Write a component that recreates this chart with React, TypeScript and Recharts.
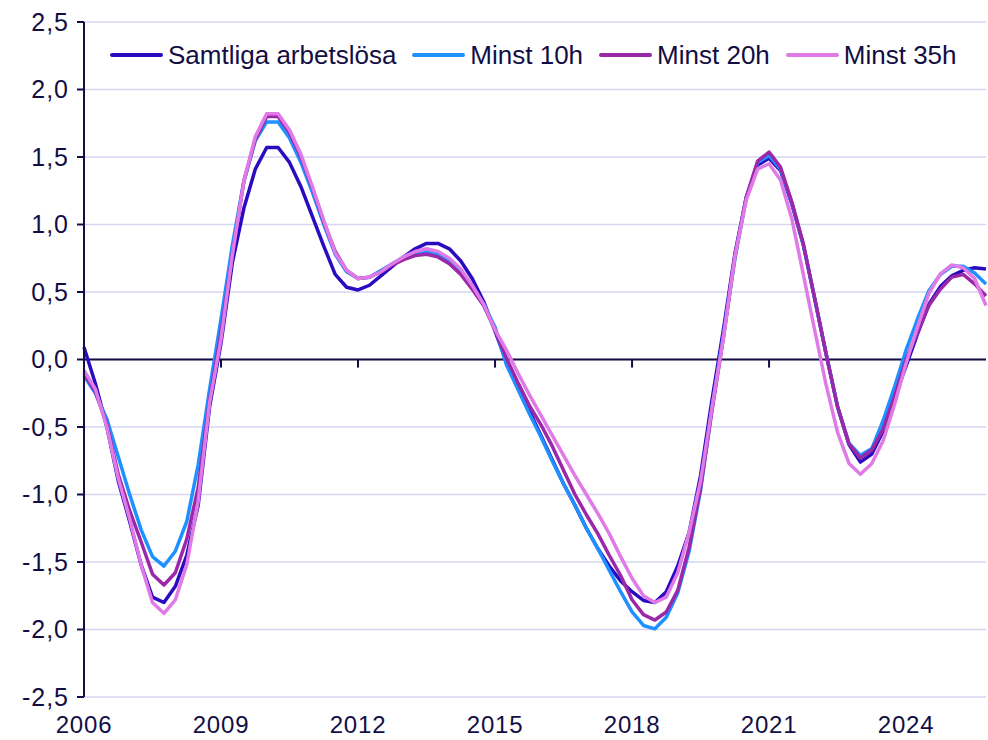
import React from 'react';
import { LineChart, Line, XAxis, YAxis, CartesianGrid, ReferenceLine } from 'recharts';

// Quarterly categories 2006 K1 .. 2025 K4
const years = [2006, 2007, 2008, 2009, 2010, 2011, 2012, 2013, 2014, 2015, 2016, 2017, 2018, 2019, 2020, 2021, 2022, 2023, 2024, 2025];
const quarterNames = ['K1', 'K2', 'K3', 'K4'];
const categories: string[] = years.flatMap((y) => quarterNames.map((q) => `${y} ${q}`));

const xTickLabels = ['2006', '2009', '2012', '2015', '2018', '2021', '2024'];
const yTicks = [-2.5, -2, -1.5, -1, -0.5, 0, 0.5, 1, 1.5, 2, 2.5];

const seriesNames = ['Samtliga arbetslösa', 'Minst 10h', 'Minst 20h', 'Minst 35h'];

const samtliga = [
  0.09, -0.18, -0.5, -0.9, -1.2, -1.52, -1.76, -1.8, -1.68, -1.45,
  -1.08, -0.35, 0.12, 0.72, 1.12, 1.41, 1.57, 1.57, 1.46, 1.28,
  1.06, 0.84, 0.63, 0.535, 0.515, 0.55, 0.62, 0.69, 0.76, 0.82,
  0.86, 0.86, 0.82, 0.73, 0.6, 0.43, 0.21, -0.02, -0.2, -0.38,
  -0.56, -0.74, -0.92, -1.08, -1.25, -1.4, -1.53, -1.64, -1.72, -1.785,
  -1.8, -1.72, -1.53, -1.28, -0.86, -0.3, 0.22, 0.78, 1.2, 1.44,
  1.49, 1.4, 1.15, 0.85, 0.45, 0.04, -0.35, -0.63, -0.76, -0.7,
  -0.53, -0.28, -0.05, 0.19, 0.41, 0.54, 0.62, 0.66, 0.68, 0.67,
];

const minst10 = [
  -0.12, -0.25, -0.44, -0.72, -1.0, -1.26, -1.46, -1.53, -1.42, -1.2,
  -0.78, -0.22, 0.3, 0.85, 1.32, 1.62, 1.76, 1.76, 1.64, 1.46,
  1.24, 1.0, 0.78, 0.65, 0.6, 0.61, 0.66, 0.71, 0.76, 0.79,
  0.8, 0.78, 0.73, 0.65, 0.54, 0.41, 0.24, -0.04, -0.22, -0.4,
  -0.57, -0.75, -0.92, -1.08, -1.25, -1.4, -1.56, -1.72, -1.87, -1.97,
  -1.995, -1.91, -1.73, -1.42, -0.97, -0.36, 0.18, 0.74, 1.2, 1.46,
  1.51, 1.41, 1.16, 0.85, 0.45, 0.04, -0.35, -0.62, -0.71, -0.66,
  -0.45, -0.2, 0.07, 0.3, 0.51, 0.63, 0.69, 0.69, 0.64, 0.56,
];

const minst20 = [
  -0.1, -0.24, -0.48, -0.85, -1.12, -1.35, -1.59, -1.67, -1.58, -1.33,
  -0.95, -0.3, 0.2, 0.78, 1.32, 1.63, 1.8, 1.8, 1.68, 1.5,
  1.27, 1.02, 0.8, 0.66, 0.6, 0.61, 0.65, 0.7, 0.74, 0.77,
  0.78, 0.76, 0.71, 0.63, 0.52, 0.4, 0.22, 0.01, -0.17, -0.34,
  -0.48, -0.64, -0.82, -1.0, -1.15, -1.29, -1.45, -1.6, -1.78, -1.89,
  -1.93, -1.87, -1.71, -1.39, -0.95, -0.38, 0.16, 0.76, 1.2, 1.47,
  1.536, 1.425, 1.165, 0.857, 0.45, 0.04, -0.35, -0.625, -0.73, -0.67,
  -0.515, -0.27, 0.0, 0.2, 0.4, 0.52, 0.61, 0.63, 0.56, 0.47,
];

const minst35 = [
  -0.08, -0.22, -0.5, -0.88, -1.18, -1.52, -1.8, -1.88, -1.78, -1.52,
  -1.05, -0.32, 0.15, 0.78, 1.32, 1.65, 1.82, 1.82, 1.7, 1.52,
  1.28, 1.03, 0.79, 0.66, 0.6, 0.61, 0.65, 0.71, 0.76, 0.8,
  0.82, 0.8, 0.75, 0.67, 0.55, 0.41, 0.22, 0.07, -0.1, -0.26,
  -0.41, -0.56, -0.71, -0.86, -1.0, -1.14, -1.29, -1.46, -1.62, -1.75,
  -1.8, -1.76, -1.58, -1.28, -0.9, -0.36, 0.16, 0.76, 1.18, 1.41,
  1.45, 1.33, 1.04, 0.63, 0.215, -0.19, -0.54, -0.77, -0.85, -0.77,
  -0.6, -0.33, -0.03, 0.24, 0.49, 0.635, 0.7, 0.68, 0.6, 0.4,
];

const seriesValues = [samtliga, minst10, minst20, minst35];
const seriesColors = ['#2a0cc0', '#1e90ff', '#9b27a9', '#e07ae6'];
const seriesKeys = ['s0', 's1', 's2', 's3'];

const data = categories.map((q, i) => {
  const row: Record<string, string | number> = { q };
  seriesKeys.forEach((k, s) => {
    row[k] = seriesValues[s][i];
  });
  return row;
});

const xTicks = xTickLabels.map((y) => `${y} K1`);

const TEXT = '#120e44';
const AXIS = '#120e44';
const GRID = '#d6d6f0';
const FONT = '"Liberation Sans", Arial, Helvetica, sans-serif';

const fmtY = (v: number) => v.toFixed(1).replace('.', ',');

export default function App() {
  return (
    <div style={{ position: 'absolute', left: 0, top: 0, width: 988, height: 740, background: '#ffffff', fontFamily: FONT }}>
      <LineChart width={988} height={740} data={data} margin={{ top: 22, right: 2, bottom: 0, left: 0 }}>
        <CartesianGrid vertical={false} stroke={GRID} strokeWidth={1.5} />
        <XAxis
          dataKey="q"
          ticks={xTicks}
          interval={0}
          tickFormatter={(v: string) => v.slice(0, 4)}
          axisLine={false}
          tickLine={false}
          tickSize={0}
          tickMargin={19}
          height={43}
          tick={{ fill: TEXT, fontSize: 24, fontFamily: FONT, letterSpacing: 0.8 }}
        />
        <YAxis
          type="number"
          domain={[-2.5, 2.5]}
          ticks={yTicks}
          interval={0}
          width={84}
          tickFormatter={fmtY}
          axisLine={{ stroke: AXIS, strokeWidth: 2 }}
          tickLine={{ stroke: AXIS, strokeWidth: 2 }}
          tickSize={7}
          tickMargin={8}
          tick={{ fill: TEXT, fontSize: 25, fontFamily: FONT, letterSpacing: 1 }}
        />
        <ReferenceLine y={0} stroke={AXIS} strokeWidth={2} />
        {xTicks.slice(1).map((t) => (
          <ReferenceLine
            key={t}
            segment={[{ x: t, y: 0 }, { x: t, y: -0.06 }]}
            stroke={AXIS}
            strokeWidth={2}
          />
        ))}
        {seriesKeys.map((k, s) => (
          <Line
            key={k}
            type="linear"
            dataKey={k}
            name={seriesNames[s]}
            stroke={seriesColors[s]}
            strokeWidth={3.5}
            dot={false}
            isAnimationActive={false}
            strokeLinejoin="round"
          />
        ))}
      </LineChart>
      <div
        style={{
          position: 'absolute',
          left: 110,
          top: 40,
          height: 30,
          display: 'flex',
          alignItems: 'center',
          gap: 16,
          background: '#ffffff',
          fontSize: 26,
          color: TEXT,
          whiteSpace: 'nowrap',
        }}
      >
        {seriesNames.map((n, s) => (
          <div key={n} style={{ display: 'flex', alignItems: 'center' }}>
            <span style={{ display: 'inline-block', width: 53, height: 4, background: seriesColors[s], borderRadius: 2, marginRight: 5 }} />
            <span>{n}</span>
          </div>
        ))}
      </div>
    </div>
  );
}
